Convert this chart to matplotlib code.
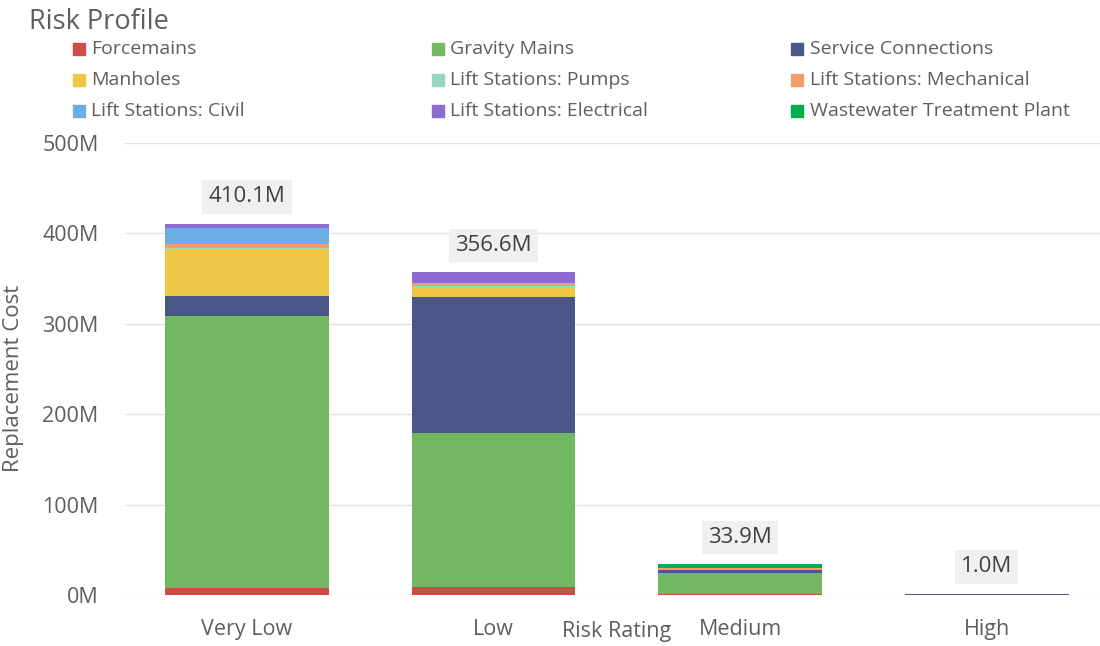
import matplotlib.pyplot as plt
import numpy as np
from matplotlib.patches import Rectangle

plt.rcParams['font.family'] = ['Open Sans', 'DejaVu Sans']

ratings = ['Very Low', 'Low', 'Medium', 'High']
series = ['Forcemains', 'Gravity Mains', 'Service Connections',
          'Manholes', 'Lift Stations: Pumps', 'Lift Stations: Mechanical',
          'Lift Stations: Civil', 'Lift Stations: Electrical',
          'Wastewater Treatment Plant']
colors = ['#D04B47', '#72B761', '#4A5788',
          '#ECC846', '#95D9BA', '#F0A066',
          '#6BAEE3', '#8E6BD0', '#00B050']

# replacement cost in millions, per rating
forcemains = [8.0, 9.2, 1.5, 0.0]
gravity = [300.6, 170.0, 22.5, 0.0]
service = [22.0, 150.8, 3.7, 1.0]
manholes = [52.0, 10.4, 0.0, 0.0]
pumps = [1.0, 0.7, 0.0, 0.0]
mechanical = [4.4, 3.3, 2.5, 0.0]
civil = [17.7, 0.0, 0.0, 0.0]
electrical = [4.4, 12.2, 0.0, 0.0]
wwtp = [0.0, 0.0, 3.7, 0.0]
totals = [410.1, 356.6, 33.9, 1.0]

values = [forcemains, gravity, service, manholes, pumps,
          mechanical, civil, electrical, wwtp]

txt = '#605E5C'
fig = plt.figure(figsize=(11, 6.46), dpi=100)
ax = fig.add_axes([0.1136, 0.079, 0.8864, 0.70])

x = np.arange(len(ratings))
bottom = np.zeros(len(ratings))
for name, vals, c in zip(series, values, colors):
    ax.bar(x, vals, width=0.665, bottom=bottom, color=c, label=name, zorder=2)
    bottom += np.array(vals)

for xi, t in zip(x, totals):
    ax.annotate(f'{t:.1f}M', (xi, t), xytext=(0, 19.5), textcoords='offset points',
                ha='center', va='center', fontsize=16, color='#404040',
                bbox=dict(boxstyle='square,pad=0.28', fc='#F0F0F0', ec='none'))

ax.set_ylim(0, 500)
ax.set_xlim(-0.495, 3.46)
ax.set_yticks(range(0, 501, 100))
ax.set_yticklabels([f'{v}M' for v in range(0, 501, 100)])
ax.set_xticks(x)
ax.set_xticklabels(ratings)
ax.tick_params(axis='both', length=0, labelsize=15.5, labelcolor=txt)
ax.tick_params(axis='y', pad=19)
ax.tick_params(axis='x', pad=17)
ax.grid(axis='y', color='#E1E1E1', linewidth=1, zorder=0)
for s in ax.spines.values():
    s.set_visible(False)

fig.text(14 / 1100, 1 - 378 / 646, 'Replacement Cost', fontsize=16, color=txt,
         rotation=90, ha='center', va='center')
fig.text(0.561, 1 - 632 / 646, 'Risk Rating', fontsize=15.5, color=txt,
         ha='center', va='center')
fig.text(0.026, 1 - 22 / 646, 'Risk Profile', fontsize=19.5, color=txt,
         ha='left', va='center')

# legend, three per row
for i, (name, c) in enumerate(zip(series, colors)):
    col, row = i % 3, i // 3
    lx = 0.0665 + col * 0.3265
    ly = 1 - (49 + row * 31) / 646
    fig.patches.append(Rectangle((lx, ly - 0.0093), 0.0108, 0.0186, color=c,
                                 transform=fig.transFigure, figure=fig))
    fig.text(lx + 0.0165, ly, name, fontsize=14, color=txt, ha='left', va='center')

plt.savefig('out.png', dpi=100)
